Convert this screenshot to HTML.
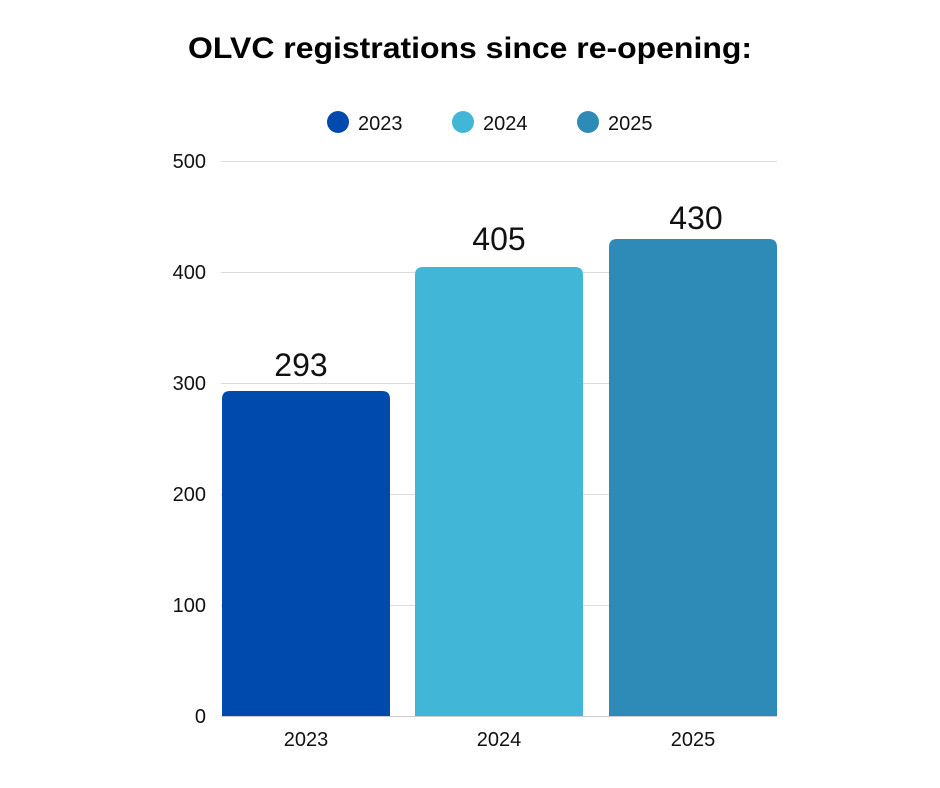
<!DOCTYPE html>
<html><head><meta charset="utf-8"><style>
body{margin:0;background:#fff;}
svg{display:block;font-family:"Liberation Sans",sans-serif;}
</style></head><body>
<svg width="940" height="788" viewBox="0 0 940 788" xmlns="http://www.w3.org/2000/svg">
<rect width="940" height="788" fill="#fff"/>
<text x="188" y="58" font-size="30" font-weight="bold" fill="#000" textLength="564" lengthAdjust="spacingAndGlyphs">OLVC registrations since re-opening:</text>
<circle cx="338" cy="122" r="11" fill="#004AAD"/>
<text x="358" y="130" font-size="20" fill="#111">2023</text>
<circle cx="463" cy="122" r="11" fill="#41B6D6"/>
<text x="483" y="130" font-size="20" fill="#111">2024</text>
<circle cx="588" cy="122" r="11" fill="#2E8BB8"/>
<text x="608" y="130" font-size="20" fill="#111">2025</text>
<g stroke="#ddd" stroke-width="1">
<line x1="221" x2="777" y1="161.5" y2="161.5"/>
<line x1="221" x2="777" y1="272.5" y2="272.5"/>
<line x1="221" x2="777" y1="383.5" y2="383.5"/>
<line x1="221" x2="777" y1="494.5" y2="494.5"/>
<line x1="221" x2="777" y1="605.5" y2="605.5"/>
</g>
<g font-size="20" fill="#111" text-anchor="end">
<text x="206" y="168">500</text>
<text x="206" y="279">400</text>
<text x="206" y="390">300</text>
<text x="206" y="501">200</text>
<text x="206" y="612">100</text>
<text x="206" y="723">0</text>
</g>
<path d="M222 716 V399 Q222 391 230 391 H382 Q390 391 390 399 V716Z" fill="#004AAD"/>
<path d="M415 716 V275 Q415 267 423 267 H575 Q583 267 583 275 V716Z" fill="#41B6D6"/>
<path d="M609 716 V247 Q609 239 617 239 H769 Q777 239 777 247 V716Z" fill="#2E8BB8"/>
<line x1="221" x2="777" y1="716.5" y2="716.5" stroke="#ccc"/>
<g font-size="32" fill="#111" text-anchor="middle">
<text x="301" y="376">293</text>
<text x="499" y="250">405</text>
<text x="696" y="229">430</text>
</g>
<g font-size="20" fill="#111" text-anchor="middle">
<text x="306" y="746">2023</text>
<text x="499" y="746">2024</text>
<text x="693" y="746">2025</text>
</g>
</svg>
</body></html>
